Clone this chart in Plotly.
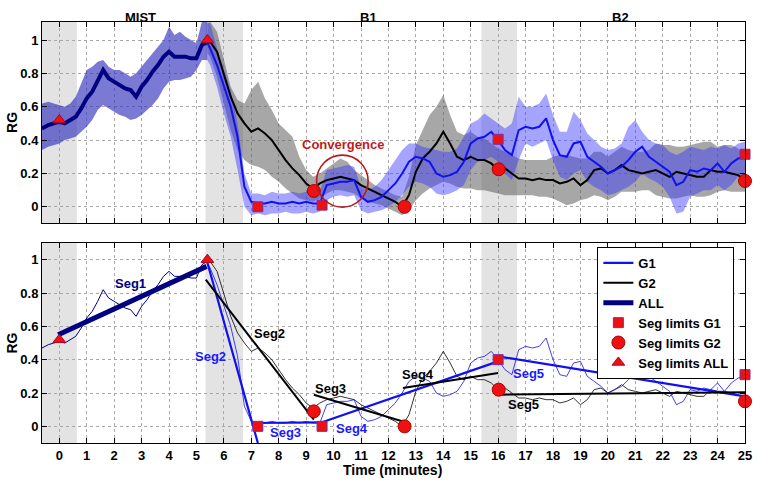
import numpy as np
import plotly.graph_objects as go

# ---------------- data ----------------
# ALL (whole sample) before split
T_ALL = [-0.63, -0.4, -0.2, 0.0, 0.2, 0.4, 0.6, 0.8, 1.0, 1.2, 1.4, 1.6, 1.8, 2.0, 2.2,
         2.4, 2.6, 2.8, 3.0, 3.2, 3.4, 3.6, 3.8, 4.0, 4.2, 4.4, 4.6, 4.8, 5.0, 5.2, 5.4]
ALL_MEAN = [0.47, 0.49, 0.50, 0.51, 0.50, 0.52, 0.54, 0.59, 0.65, 0.69, 0.75, 0.82, 0.77, 0.75, 0.73,
            0.71, 0.70, 0.66, 0.72, 0.76, 0.81, 0.85, 0.90, 0.93, 0.90, 0.90, 0.90, 0.89, 0.89, 0.97, 0.99]
ALL_UP = [0.62, 0.63, 0.62, 0.61, 0.60, 0.62, 0.66, 0.74, 0.82, 0.84, 0.87, 0.88, 0.84, 0.82, 0.82,
          0.80, 0.78, 0.80, 0.84, 0.88, 0.92, 0.96, 1.00, 1.08, 1.03, 1.05, 1.02, 1.00, 0.98, 1.11, 1.11]
ALL_LO = [0.34, 0.36, 0.37, 0.38, 0.40, 0.41, 0.42, 0.45, 0.48, 0.52, 0.58, 0.61, 0.59, 0.57, 0.55,
          0.54, 0.52, 0.53, 0.55, 0.58, 0.61, 0.65, 0.71, 0.75, 0.76, 0.76, 0.77, 0.78, 0.82, 0.88, 0.88]

# groups after split: time grid 5.4, then 5.5 .. 25 every 0.25 min
T_G = [5.4] + list(np.round(np.arange(5.5, 25.001, 0.25), 2))

G1_MEAN = [0.98,
           0.95, 0.85,
           0.72, 0.60, 0.42, 0.12,
           0.03, 0.02, 0.02, 0.03,
           0.02, 0.02, 0.03, 0.02,
           0.03, 0.02, 0.02, 0.13,
           0.14, 0.15, 0.15, 0.16,
           0.06, 0.03, 0.04, 0.06,
           0.10, 0.14, 0.20, 0.27,
           0.30, 0.29, 0.27, 0.20,
           0.18, 0.19, 0.21, 0.27,
           0.38, 0.41, 0.42, 0.45,
           0.40, 0.34, 0.31, 0.46,
           0.48, 0.47, 0.48, 0.53,
           0.40, 0.31, 0.30, 0.38,
           0.39, 0.30, 0.27, 0.24,
           0.20, 0.22, 0.24, 0.28,
           0.33, 0.36, 0.30, 0.27,
           0.24, 0.21, 0.13, 0.15,
           0.22, 0.21, 0.23, 0.22,
           0.26, 0.21, 0.26, 0.29,
           0.30]
G1_UP = [1.10,
         1.10, 0.95,
         0.82, 0.70, 0.50, 0.20,
         0.08, 0.08, 0.07, 0.09,
         0.08, 0.08, 0.09, 0.08,
         0.09, 0.10, 0.09, 0.22,
         0.23, 0.24, 0.25, 0.24,
         0.12, 0.10, 0.12, 0.16,
         0.22, 0.28, 0.34, 0.38,
         0.38, 0.36, 0.35, 0.34,
         0.33, 0.33, 0.35, 0.42,
         0.50, 0.52, 0.56, 0.53,
         0.50, 0.47, 0.50, 0.66,
         0.60, 0.60, 0.62, 0.68,
         0.55, 0.45, 0.45, 0.57,
         0.52, 0.44, 0.40, 0.36,
         0.34, 0.35, 0.38, 0.48,
         0.52, 0.45, 0.40, 0.38,
         0.37, 0.33, 0.31, 0.33,
         0.36, 0.35, 0.34, 0.36,
         0.35, 0.37, 0.35, 0.38,
         0.39]
G1_LO = [0.88,
         0.85, 0.72,
         0.56, 0.42, 0.22, 0.00,
         -0.05, -0.04, -0.05, -0.04,
         -0.04, -0.03, -0.04, -0.04,
         -0.03, -0.04, -0.03, 0.04,
         0.06, 0.07, 0.06, 0.07,
         -0.02, -0.04, -0.03, -0.02,
         0.00, 0.03, 0.07, 0.12,
         0.15, 0.14, 0.12, 0.08,
         0.07, 0.08, 0.10, 0.13,
         0.22, 0.27, 0.28, 0.30,
         0.27, 0.20, 0.16, 0.28,
         0.38, 0.36, 0.38, 0.40,
         0.28, 0.18, 0.16, 0.20,
         0.22, 0.15, 0.12, 0.10,
         0.07, 0.08, 0.10, 0.12,
         0.15, 0.20, 0.17, 0.15,
         0.12, 0.06, -0.04, -0.03,
         0.06, 0.08, 0.10, 0.10,
         0.13, 0.10, 0.13, 0.18,
         0.20]
G2_MEAN = [0.98,
           0.99, 0.93,
           0.80, 0.66, 0.56, 0.50,
           0.45, 0.47, 0.44, 0.40,
           0.34, 0.28, 0.23, 0.19,
           0.14, 0.11, 0.14, 0.16,
           0.17, 0.18, 0.17, 0.16,
           0.13, 0.11, 0.09, 0.07,
           0.05, 0.03, 0.00, 0.07,
           0.21, 0.29, 0.33, 0.38,
           0.45, 0.38, 0.30, 0.28,
           0.30, 0.28, 0.28, 0.26,
           0.22, 0.23, 0.20, 0.17,
           0.17, 0.16, 0.17, 0.16,
           0.16, 0.14, 0.15, 0.17,
           0.13, 0.16, 0.22, 0.23,
           0.20, 0.22, 0.25, 0.22,
           0.21, 0.20, 0.21, 0.22,
           0.20, 0.18, 0.21, 0.20,
           0.19, 0.18, 0.18, 0.22,
           0.21, 0.21, 0.20, 0.19,
           0.16]
G2_UP = [1.10,
         1.11, 1.05,
         0.88, 0.72, 0.64, 0.62,
         0.70, 0.75, 0.65, 0.58,
         0.50, 0.46, 0.42, 0.30,
         0.22, 0.18, 0.20, 0.23,
         0.26, 0.29, 0.27, 0.22,
         0.19, 0.16, 0.13, 0.11,
         0.09, 0.07, 0.06, 0.18,
         0.37, 0.46, 0.55, 0.60,
         0.67, 0.55, 0.45, 0.43,
         0.45, 0.42, 0.41, 0.38,
         0.35, 0.33, 0.31, 0.29,
         0.28, 0.28, 0.28, 0.28,
         0.30, 0.31, 0.31, 0.30,
         0.29, 0.29, 0.33, 0.33,
         0.30, 0.33, 0.36, 0.34,
         0.33, 0.33, 0.34, 0.38,
         0.37, 0.37, 0.36, 0.36,
         0.37, 0.38, 0.39, 0.39,
         0.36, 0.37, 0.37, 0.35,
         0.29]
G2_LO = [0.92,
         0.90, 0.78,
         0.62, 0.46, 0.34, 0.28,
         0.25, 0.24, 0.22, 0.18,
         0.15, 0.11, 0.08, 0.05,
         0.04, 0.03, 0.05, 0.08,
         0.10, 0.10, 0.09, 0.08,
         0.05, 0.03, 0.02, 0.01,
         -0.01, -0.03, -0.05, -0.02,
         0.04, 0.08, 0.11, 0.13,
         0.15, 0.14, 0.12, 0.11,
         0.11, 0.10, 0.10, 0.09,
         0.08, 0.07, 0.07, 0.07,
         0.07, 0.07, 0.06, 0.06,
         0.05, 0.03, 0.01, 0.02,
         0.04, 0.05, 0.07, 0.06,
         0.04, 0.06, 0.09, 0.09,
         0.09, 0.10, 0.10, 0.07,
         0.06, 0.05, 0.05, 0.06,
         0.07, 0.06, 0.06, 0.07,
         0.09, 0.10, 0.09, 0.09,
         0.09]

# segment limits
LIM_G1_T = [7.24, 9.58, 16.0, 25.0]
LIM_G1_TOP = [0.0, 0.01, 0.405, 0.315]
LIM_G1_BOT = [0.0, 0.0, 0.40, 0.31]
LIM_G2_T = [9.28, 12.59, 16.02, 25.0]
LIM_G2_TOP = [0.095, 0.0, 0.225, 0.155]
LIM_G2_BOT = [0.09, 0.0, 0.22, 0.15]
LIM_ALL_T = [0.0, 5.4]
LIM_ALL_V = [0.52, 1.0]

# fitted segments (start t, start v, end t, end v)
SEG_ALL = [(-0.04, 0.55, 5.37, 0.96)]
SEG_G1 = [(5.37, 1.0, 7.24, -0.1), (7.06, 0.02, 9.58, 0.024), (9.58, 0.024, 16.0, 0.39), (16.0, 0.42, 25.0, 0.18)]
SEG_G2 = [(5.34, 0.88, 9.28, 0.04), (9.28, 0.19, 12.59, 0.026), (12.53, 0.23, 16.0, 0.32), (16.07, 0.19, 25.0, 0.205)]

SEG_LABELS = [("Seg1", 2.61, 0.86, "#000080"), ("Seg2", 7.66, 0.56, "black"), ("Seg2", 5.50, 0.42, "#1a1aff"),
              ("Seg3", 9.88, 0.23, "black"), ("Seg3", 8.26, -0.035, "#1a1aff"), ("Seg4", 10.66, -0.01, "#1a1aff"),
              ("Seg4", 13.07, 0.31, "black"), ("Seg5", 17.09, 0.32, "#1a1aff"), ("Seg5", 16.91, 0.13, "black")]

PHASES = [("MIST", 2.95), ("B1", 11.27), ("B2", 20.47)]
GRAY_BANDS = [(-0.63, 0.64), (5.33, 6.70), (15.39, 16.69)]
X_TICKS = list(range(0, 26))
Y_TICKS = [0, 0.2, 0.4, 0.6, 0.8, 1]

# ---------------- figure ----------------
FONT = "Liberation Sans, Arial, sans-serif"
NAVY = "#000080"
BLUE = "#1010f0"
fig = go.Figure()


def band(t, up, lo, color, xa, ya):
    fig.add_trace(go.Scatter(x=list(t) + list(t)[::-1], y=list(up) + list(lo)[::-1], fill="toself",
                             fillcolor=color, line=dict(width=0), mode="lines", hoverinfo="skip",
                             showlegend=False, xaxis=xa, yaxis=ya))


band(T_G, G2_UP, G2_LO, "rgba(95,95,95,0.55)", "x", "y")
band(T_G, G1_UP, G1_LO, "rgba(55,55,255,0.45)", "x", "y")
band(T_ALL, ALL_UP, ALL_LO, "rgba(50,50,190,0.65)", "x", "y")

# top mean lines
fig.add_trace(go.Scatter(x=T_G, y=G2_MEAN, mode="lines", line=dict(color="black", width=2),
                         showlegend=False, xaxis="x", yaxis="y"))
fig.add_trace(go.Scatter(x=T_G, y=G1_MEAN, mode="lines", line=dict(color=BLUE, width=2),
                         showlegend=False, xaxis="x", yaxis="y"))
fig.add_trace(go.Scatter(x=T_ALL, y=ALL_MEAN, mode="lines", line=dict(color=NAVY, width=4),
                         showlegend=False, xaxis="x", yaxis="y"))

# bottom thin lines
fig.add_trace(go.Scatter(x=T_G, y=G2_MEAN, mode="lines", line=dict(color="black", width=0.8),
                         showlegend=False, xaxis="x2", yaxis="y2"))
fig.add_trace(go.Scatter(x=T_G, y=G1_MEAN, mode="lines", line=dict(color=BLUE, width=0.8),
                         showlegend=False, xaxis="x2", yaxis="y2"))
fig.add_trace(go.Scatter(x=T_ALL, y=ALL_MEAN, mode="lines", line=dict(color=NAVY, width=1),
                         showlegend=False, xaxis="x2", yaxis="y2"))


def seg_xy(segs):
    xs, ys = [], []
    for a, b, c, d in segs:
        xs += [a, c, None]
        ys += [b, d, None]
    return xs, ys


sx, sy = seg_xy(SEG_G1)
fig.add_trace(go.Scatter(x=sx, y=sy, mode="lines", line=dict(color=BLUE, width=2.2), name="G1",
                         xaxis="x2", yaxis="y2"))
sx, sy = seg_xy(SEG_G2)
fig.add_trace(go.Scatter(x=sx, y=sy, mode="lines", line=dict(color="black", width=2), name="G2",
                         xaxis="x2", yaxis="y2"))
sx, sy = seg_xy(SEG_ALL)
fig.add_trace(go.Scatter(x=sx, y=sy, mode="lines", line=dict(color=NAVY, width=5), name="ALL",
                         xaxis="x2", yaxis="y2"))

SQ = dict(symbol="square", size=10, color="#ee1111", line=dict(color="#7030b0", width=1))
CI = dict(symbol="circle", size=13, color="#ee1111", line=dict(color="#b00000", width=1))
TR = dict(symbol="triangle-up", size=11, color="#ee1111", line=dict(color="#b00020", width=1))

for ya, xa, show in (("y", "x", False), ("y2", "x2", True)):
    fig.add_trace(go.Scatter(x=LIM_G1_T, y=LIM_G1_TOP if ya == "y" else LIM_G1_BOT, mode="markers",
                             marker=SQ, name="Seg limits G1", showlegend=show, cliponaxis=False,
                             xaxis=xa, yaxis=ya))
    fig.add_trace(go.Scatter(x=LIM_G2_T, y=LIM_G2_TOP if ya == "y" else LIM_G2_BOT, mode="markers",
                             marker=CI, name="Seg limits G2", showlegend=show, cliponaxis=False,
                             xaxis=xa, yaxis=ya))
    fig.add_trace(go.Scatter(x=LIM_ALL_T, y=LIM_ALL_V, mode="markers", marker=TR,
                             name="Seg limits ALL", showlegend=show, cliponaxis=False,
                             xaxis=xa, yaxis=ya))

shapes = []
for x0, x1 in GRAY_BANDS:
    for yr in ("y domain", "y2 domain"):
        shapes.append(dict(type="rect", xref="x" if yr == "y domain" else "x2", yref=yr,
                           x0=x0, x1=x1, y0=0, y1=1, fillcolor="#e3e3e3", line=dict(width=0),
                           layer="below"))
# convergence circle
shapes.append(dict(type="circle", xref="x", yref="y", x0=9.38, x1=11.26, y0=-0.002, y1=0.31,
                   line=dict(color="#b31b1b", width=1.6)))

annotations = []
for txt, t, v, col in SEG_LABELS:
    annotations.append(dict(text=txt, x=t, y=v, xref="x2", yref="y2", showarrow=False,
                            font=dict(size=13, color=col, family=FONT, weight="bold")))
annotations.append(dict(text="Convergence", x=10.34, y=0.372, xref="x", yref="y", showarrow=False,
                        font=dict(size=13, color="#c01c1c", family=FONT, weight="bold")))
for txt, t in PHASES:
    annotations.append(dict(text=txt, x=t, y=1.033, xref="x", yref="paper", showarrow=False,
                            xanchor="center",
                            font=dict(size=13, color="black", family=FONT, weight="bold")))
for yc in ((1 + 0.5226) / 2, 0.475 / 2):
    annotations.append(dict(text="RG", x=-0.042, y=yc, xref="paper", yref="paper", showarrow=False,
                            textangle=-90, xanchor="center", yanchor="middle",
                            font=dict(size=14, color="black", family=FONT, weight="bold")))
annotations.append(dict(text="Time (minutes)", x=0.4986, y=-0.064, xref="paper", yref="paper",
                        showarrow=False, xanchor="center", yanchor="middle",
                        font=dict(size=14, color="black", family=FONT, weight="bold")))

axis_common = dict(showline=True, linecolor="black", linewidth=1, mirror="ticks", ticks="inside",
                   ticklen=5, tickcolor="black", showgrid=True, gridcolor="#a8a8a8", griddash="dot",
                   gridwidth=1, zeroline=False,
                   tickfont=dict(size=13, color="black", family=FONT, weight="bold"))

fig.update_layout(
    width=760, height=480,
    margin=dict(l=42, r=8, t=22, b=37),
    paper_bgcolor="white", plot_bgcolor="white",
    font=dict(family=FONT, color="black"),
    xaxis=dict(axis_common, domain=[0, 1], anchor="y", range=[-0.63, 25], tickvals=X_TICKS,
               showticklabels=False),
    yaxis=dict(axis_common, domain=[0.5226, 1], anchor="x", range=[-0.097, 1.108], tickvals=Y_TICKS,
               ticktext=[("%g" % v) for v in Y_TICKS]),
    xaxis2=dict(axis_common, domain=[0, 1], anchor="y2", range=[-0.63, 25], tickvals=X_TICKS),
    yaxis2=dict(axis_common, domain=[0, 0.475], anchor="x2", range=[-0.1, 1.1], tickvals=Y_TICKS,
                ticktext=[("%g" % v) for v in Y_TICKS]),
    shapes=shapes, annotations=annotations,
    legend=dict(x=0.790, y=0.4656, xanchor="left", yanchor="top", bgcolor="white",
                bordercolor="black", borderwidth=1, tracegroupgap=0, itemwidth=30,
                font=dict(size=13, color="black", family=FONT, weight="bold")),
    showlegend=True,
)

fig.write_html("out.html", config={"displayModeBar": False},
               post_script="document.body.style.margin='0';")
